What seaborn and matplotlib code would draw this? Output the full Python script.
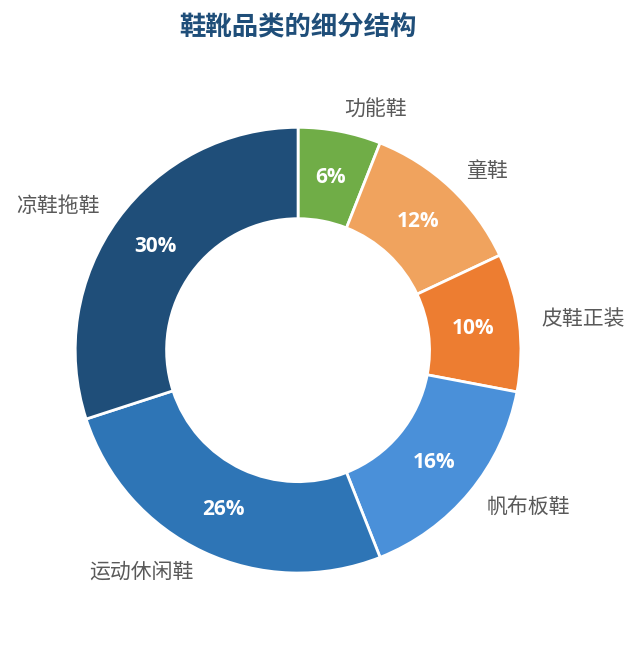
import matplotlib
matplotlib.use("Agg")
import matplotlib.pyplot as plt
import seaborn as sns

# 鞋靴品类细分数据 (顺时针, 从顶部开始)
categories = ["功能鞋", "童鞋", "皮鞋正装", "帆布板鞋", "运动休闲鞋", "凉鞋拖鞋"]
shares = [6, 12, 10, 16, 26, 30]
colors = ["#70AD47", "#F0A35E", "#ED7D31", "#4A90D9", "#2E75B6", "#1F4E79"]
title = "鞋靴品类的细分结构"

sns.set_theme(style="white")
plt.rcParams["font.family"] = ["Noto Sans CJK SC", "DejaVu Sans"]

fig = plt.figure(figsize=(6.41, 6.45), dpi=100)
ax = fig.add_axes([0.117, 0.1116, 0.696, 0.691])

wedges, texts, autotexts = ax.pie(
    shares,
    labels=categories,
    colors=sns.color_palette(colors),
    startangle=90,
    counterclock=False,
    labeldistance=1.1,
    pctdistance=0.79,
    autopct="%d%%",
    wedgeprops=dict(width=0.41, edgecolor="white", linewidth=2),
    textprops=dict(fontsize=15, color="#595959"),
)
for t in autotexts:
    t.set_color("white")
    t.set_fontweight("bold")
    t.set_fontsize(15)
    t.set_family(["Open Sans", "DejaVu Sans"])
ax.set_aspect("equal")
ax.set_xlim(-1, 1)
ax.set_ylim(-1, 1)

fig.text(0.465, 0.957, title, ha="center", va="center",
         fontsize=19, fontweight="bold", color="#1F4E79")

fig.savefig("out.png", dpi=100)
